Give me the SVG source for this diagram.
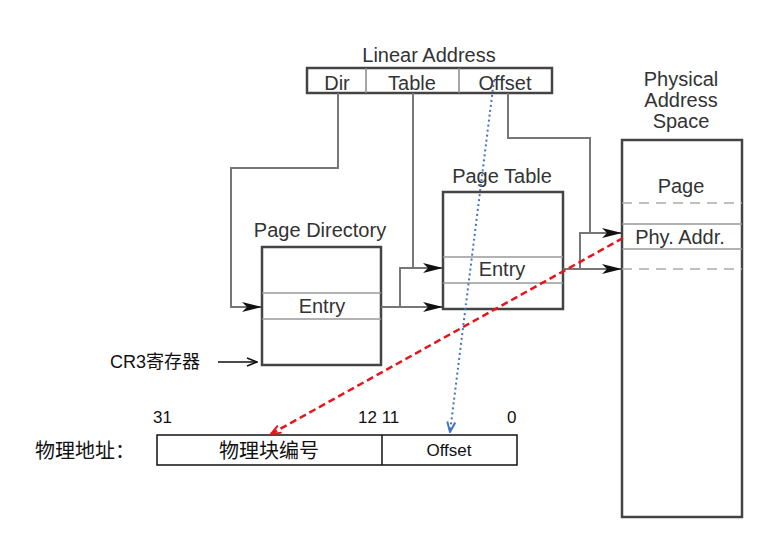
<svg xmlns="http://www.w3.org/2000/svg" width="782" height="545" viewBox="0 0 782 545">
<style>
.t{font-family:"Liberation Sans",Arial,sans-serif;font-size:20px;fill:#333;text-anchor:middle}
.c{font-family:"Liberation Sans","Noto Sans CJK SC",sans-serif;fill:#111}
.box{fill:#fff;stroke:#444;stroke-width:2.5}
.in{stroke:#999;stroke-width:1.5;fill:none}
.dash{stroke:#aaa;stroke-width:1.5;stroke-dasharray:10 7;fill:none}
.conn{stroke:#777;stroke-width:2;fill:none}
</style>
<defs>
<marker id="ah" markerWidth="20" markerHeight="10" refX="19" refY="5" orient="auto" markerUnits="userSpaceOnUse">
<path d="M0,0 L20,5 L0,10 L5,5 z" fill="#111"/>
</marker>
<marker id="red" markerWidth="12" markerHeight="10" refX="11" refY="5" orient="auto" markerUnits="userSpaceOnUse">
<path d="M1,1 L11,5 L1,9" fill="none" stroke="#e8141c" stroke-width="2"/>
</marker>
<marker id="blue" markerWidth="12" markerHeight="10" refX="11" refY="5" orient="auto" markerUnits="userSpaceOnUse">
<path d="M1,1 L11,5 L1,9" fill="none" stroke="#4472c4" stroke-width="2"/>
</marker>
<marker id="open" markerWidth="12" markerHeight="10" refX="11" refY="5" orient="auto" markerUnits="userSpaceOnUse">
<path d="M1,1 L11,5 L1,9" fill="none" stroke="#111" stroke-width="1.5"/>
</marker>
</defs>

<g id="linear-address">
<text class="t" x="429" y="62">Linear Address</text>
<rect class="box" x="307" y="68" width="245" height="25"/>
<line x1="366" y1="68" x2="366" y2="93" stroke="#888" stroke-width="1.5"/>
<line x1="459" y1="68" x2="459" y2="93" stroke="#888" stroke-width="1.5"/>
<text class="t" x="337" y="90">Dir</text>
<text class="t" x="412" y="90">Table</text>
<text class="t" x="505" y="90">Offset</text>
</g>

<g id="page-directory">
<text class="t" x="320" y="237">Page Directory</text>
<rect class="box" x="262" y="247" width="119" height="118"/>
<line class="in" x1="262" y1="293" x2="381" y2="293"/>
<line class="in" x1="262" y1="319" x2="381" y2="319"/>
<text class="t" x="322" y="313">Entry</text>
</g>

<g id="page-table">
<text class="t" x="502" y="183">Page Table</text>
<rect class="box" x="443" y="192" width="120" height="117"/>
<line class="in" x1="443" y1="257" x2="563" y2="257"/>
<line class="in" x1="443" y1="283" x2="563" y2="283"/>
<text class="t" x="502" y="276">Entry</text>
</g>

<g id="physical-address-space">
<text class="t" x="681" y="86">Physical</text>
<text class="t" x="681" y="107">Address</text>
<text class="t" x="681" y="128">Space</text>
<rect class="box" x="622" y="140" width="120" height="377"/>
<line class="dash" x1="622" y1="203" x2="742" y2="203"/>
<line class="in" x1="622" y1="224" x2="742" y2="224"/>
<line class="in" x1="622" y1="249" x2="742" y2="249"/>
<line class="dash" x1="622" y1="269" x2="742" y2="269"/>
<text class="t" x="681" y="193">Page</text>
<text class="t" x="680" y="244">Phy. Addr.</text>
</g>

<g id="cr3">
<text class="c" x="110" y="368" font-size="18">CR3寄存器</text>
</g>

<g id="physical-address">
<text class="c" x="35" y="458" font-size="20">物理地址：</text>
<rect x="157" y="435" width="360" height="30" fill="#fff" stroke="#111" stroke-width="1.5"/>
<line x1="382" y1="435" x2="382" y2="465" stroke="#111" stroke-width="1.5"/>
<text class="c" x="269" y="458" font-size="20" text-anchor="middle">物理块编号</text>
<text class="c" x="449" y="456" font-size="17" text-anchor="middle">Offset</text>
<text class="c" x="153" y="423" font-size="17">31</text>
<text class="c" x="358" y="423" font-size="17">12 11</text>
<text class="c" x="507" y="423" font-size="17">0</text>
</g>

<g id="connectors">
<path class="conn" d="M338,93 V168 H231 V307 H261" marker-end="url(#ah)"/>
<path class="conn" d="M413,93 V268 H442" marker-end="url(#ah)"/>
<path class="conn" d="M381,307 H442" marker-end="url(#ah)"/>
<path class="conn" d="M400,307 V268 H413"/>
<path class="conn" d="M508,93 V138 H590 V233 H621" marker-end="url(#ah)"/>
<path class="conn" d="M563,269 H621" marker-end="url(#ah)"/>
<path class="conn" d="M580,269 V233 H590"/>
<line x1="218" y1="362" x2="257" y2="362" stroke="#111" stroke-width="1.5" marker-end="url(#open)"/>
<line x1="623" y1="238" x2="271" y2="434" stroke="#e8141c" stroke-width="2.5" stroke-dasharray="7 4" marker-end="url(#red)"/>
<line x1="494" y1="80" x2="450" y2="432" stroke="#4472c4" stroke-width="2" stroke-dasharray="2 3" marker-end="url(#blue)"/>
</g>
</svg>
